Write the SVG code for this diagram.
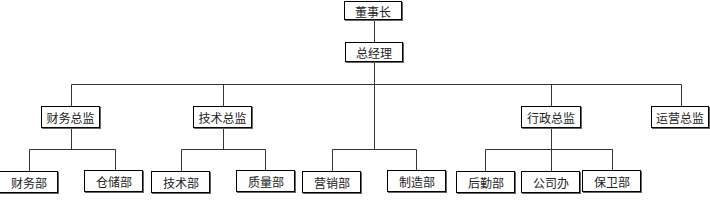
<svg xmlns="http://www.w3.org/2000/svg" width="710" height="210" viewBox="0 0 710 210">
<style>
.box{fill:#fff;stroke:#000;stroke-width:1}
.sh{fill:#666}
.t{font-family:"Noto Sans CJK SC","Noto Sans",sans-serif;font-size:12px;fill:#222;text-anchor:middle;dominant-baseline:central}
.c{fill:none;stroke:#333;stroke-width:1}
</style>
<rect width="710" height="210" fill="#fff"/>
<g id="connectors">
<path class="c" d="M374.5 20V42M374.5 62V149.5M71.5 84.5H681.5M71.5 84.5V106M223.5 84.5V106M551.5 84.5V106M681.5 84.5V106"/>
<path class="c" d="M71.5 128V149.5M29.5 149.5H115.5M29.5 149.5V171M115.5 149.5V171"/>
<path class="c" d="M223.5 128V149.5M181.5 149.5H265.5M181.5 149.5V171M265.5 149.5V171"/>
<path class="c" d="M332.5 149.5H416.5M332.5 149.5V171M416.5 149.5V171"/>
<path class="c" d="M551.5 128V171M485.5 149.5H612.5M485.5 149.5V171M612.5 149.5V171"/>
</g>
<g id="n1"><rect class="sh" x="345" y="2" width="58" height="19"/><rect class="box" x="344.5" y="1.5" width="57" height="18"/><text class="t" x="373" y="11">董事长</text></g>
<g id="n2"><rect class="sh" x="346" y="43" width="58" height="20"/><rect class="box" x="345.5" y="42.5" width="57" height="19"/><text class="t" x="374" y="52.5">总经理</text></g>
<g id="n3"><rect class="sh" x="42" y="107" width="59" height="22"/><rect class="box" x="41.5" y="106.5" width="58" height="21"/><text class="t" x="70.5" y="117">财务总监</text></g>
<g id="n4"><rect class="sh" x="194" y="107" width="59" height="22"/><rect class="box" x="193.5" y="106.5" width="58" height="21"/><text class="t" x="222.5" y="117">技术总监</text></g>
<g id="n5"><rect class="sh" x="522" y="107" width="60" height="22"/><rect class="box" x="521.5" y="106.5" width="59" height="21"/><text class="t" x="551" y="117">行政总监</text></g>
<g id="n6"><rect class="sh" x="652" y="107" width="58" height="22"/><rect class="box" x="651.5" y="106.5" width="57" height="21"/><text class="t" x="680" y="117">运营总监</text></g>
<g id="n7"><rect class="sh" x="0" y="172" width="59" height="22"/><rect class="box" x="-0.5" y="171.5" width="58" height="21"/><text class="t" x="29" y="182.5">财务部</text></g>
<g id="n8"><rect class="sh" x="85" y="171" width="59" height="22"/><rect class="box" x="84.5" y="170.5" width="58" height="21"/><text class="t" x="114" y="181.5">仓储部</text></g>
<g id="n9"><rect class="sh" x="152" y="172" width="59" height="22"/><rect class="box" x="151.5" y="171.5" width="58" height="21"/><text class="t" x="181" y="182.5">技术部</text></g>
<g id="n10"><rect class="sh" x="237" y="171" width="59" height="22"/><rect class="box" x="236.5" y="170.5" width="58" height="21"/><text class="t" x="266" y="181.5">质量部</text></g>
<g id="n11"><rect class="sh" x="303" y="172" width="59" height="22"/><rect class="box" x="302.5" y="171.5" width="58" height="21"/><text class="t" x="332" y="182.5">营销部</text></g>
<g id="n12"><rect class="sh" x="388" y="171" width="59" height="22"/><rect class="box" x="387.5" y="170.5" width="58" height="21"/><text class="t" x="417" y="181.5">制造部</text></g>
<g id="n13"><rect class="sh" x="457" y="172" width="59" height="22"/><rect class="box" x="456.5" y="171.5" width="58" height="21"/><text class="t" x="486" y="182.5">后勤部</text></g>
<g id="n14"><rect class="sh" x="522" y="172" width="59" height="22"/><rect class="box" x="521.5" y="171.5" width="58" height="21"/><text class="t" x="551" y="182.5">公司办</text></g>
<g id="n15"><rect class="sh" x="583" y="171" width="59" height="22"/><rect class="box" x="582.5" y="170.5" width="58" height="21"/><text class="t" x="612" y="181.5">保卫部</text></g>
</svg>
